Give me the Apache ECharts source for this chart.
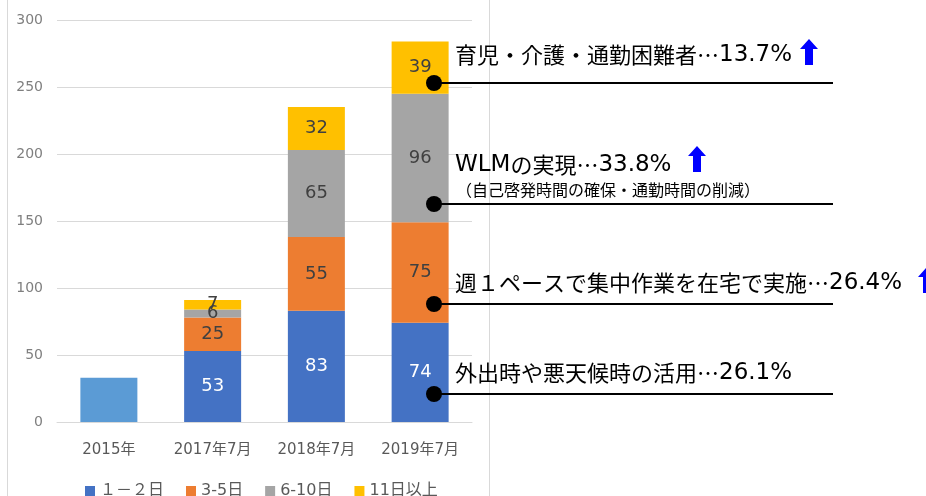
<!DOCTYPE html>
<html><head><meta charset="utf-8">
<script src="https://cdn.jsdelivr.net/npm/echarts@6/dist/echarts.min.js"></script>
<style>html,body{margin:0;padding:0;background:#fff}#c{width:926px;height:496px}</style>
</head><body><div id="c"></div>
<script>
const categories = ['2015年', '2017年7月', '2018年7月', '2019年7月'];
const seriesNames = ['１－２日', '3-5日', '6-10日', '11日以上'];
const total2015 = [33, null, null, null];
const days1to2 = [null, 53, 83, 74];
const days3to5 = [null, 25, 55, 75];
const days6to10 = [null, 6, 65, 96];
const days11plus = [null, 7, 32, 39];
const yMin = 0, yMax = 300, yStep = 50;
const noteLabels = ['育児・介護・通勤困難者…', 'WLMの実現…', '週１ペースで集中作業を在宅で実施…', '外出時や悪天候時の活用…'];
const notePercents = ['13.7%', '33.8%', '26.4%', '26.1%'];
const noteSub = '（自己啓発時間の確保・通勤時間の削減）';

const FONT = '"DejaVu Sans", "Noto Sans CJK JP", sans-serif';
const CJK = '"Noto Sans CJK JP", sans-serif';
const colors = ['#4472C4', '#ED7D31', '#A5A5A5', '#FFC000'];
const stackData = [days1to2, days3to5, days6to10, days11plus];

const chart = echarts.init(document.getElementById('c'));
const series = [{
  name: '2015',
  type: 'bar', stack: 's', barWidth: 57,
  data: total2015,
  itemStyle: { color: '#5B9BD5' },
  label: { show: false }
}];
stackData.forEach((d, i) => {
  series.push({
    name: seriesNames[i], type: 'bar', stack: 's', barWidth: 57,
    data: d,
    itemStyle: { color: colors[i] },
    label: { show: true, position: 'inside', fontSize: 18, fontFamily: FONT,
      color: i === 0 ? '#ffffff' : '#404040' }
  });
});

function arrow(x, y) {
  return { type: 'polygon', z: 100, shape: { points: [[x + 9, y], [x + 18, y + 10], [x + 13, y + 10], [x + 13, y + 26], [x + 5, y + 26], [x + 5, y + 10], [x, y + 10]] }, style: { fill: '#0000FF' } };
}
function note(x, y, i) {
  const lbl = noteLabels[i].replace('WLM', '{w|WLM}');
  return { type: 'text', z: 100, x: x, y: y, style: {
    text: '{c|' + lbl.replace('{w|WLM}', '}{w|WLM}{c|') + '}{d|' + notePercents[i] + '}',
    verticalAlign: 'middle', align: 'left', fill: '#000',
    rich: {
      c: { fontSize: 22, fontFamily: CJK, fill: '#000' },
      w: { fontSize: 23, fontFamily: FONT, fill: '#000' },
      d: { fontSize: 23, fontFamily: FONT, fill: '#000' }
    } } };
}
function sub(x, y, t) {
  return { type: 'text', z: 100, x: x, y: y, style: { text: t, fontSize: 16, fontFamily: CJK, fill: '#000', verticalAlign: 'middle', align: 'left' } };
}
const dotYs = [83, 204, 304, 394];
const graphics = [
  { type: 'line', z: 100, shape: { x1: 7.5, y1: 0, x2: 7.5, y2: 496 }, style: { stroke: '#D9D9D9', lineWidth: 1 } },
  { type: 'line', z: 100, shape: { x1: 489.5, y1: 0, x2: 489.5, y2: 496 }, style: { stroke: '#D9D9D9', lineWidth: 1 } }
];
dotYs.forEach(y => {
  graphics.push({ type: 'line', z: 100, shape: { x1: 434, y1: y, x2: 833, y2: y }, style: { stroke: '#000', lineWidth: 2 } });
  graphics.push({ type: 'circle', z: 101, shape: { cx: 434, cy: y, r: 8 }, style: { fill: '#000' } });
});
graphics.push(note(455, 55, 0));
graphics.push(note(455, 165, 1));
graphics.push(sub(456, 190, noteSub));
graphics.push(note(455, 283, 2));
graphics.push(note(455, 373, 3));
graphics.push(arrow(800, 39));
graphics.push(arrow(688, 146));
graphics.push(arrow(918, 267));

chart.setOption({
  animation: false,
  grid: { left: 57, right: 454, top: 20, bottom: 74 },
  legend: {
    data: seriesNames, left: 80, top: 478, icon: 'rect', itemWidth: 10, itemHeight: 10, itemGap: 22,
    textStyle: { fontSize: 16, color: '#595959', fontFamily: FONT }
  },
  xAxis: {
    type: 'category', data: categories,
    axisLine: { lineStyle: { color: '#D9D9D9' } }, axisTick: { show: false },
    axisLabel: { fontSize: 15, color: '#595959', fontFamily: FONT, margin: 21 }
  },
  yAxis: {
    type: 'value', min: yMin, max: yMax, interval: yStep,
    axisLine: { show: false }, axisTick: { show: false },
    splitLine: { lineStyle: { color: '#D9D9D9', width: 1 } },
    axisLabel: { fontSize: 14, color: '#7F7F7F', fontFamily: FONT, margin: 14 }
  },
  series: series,
  graphic: graphics
});
</script></body></html>
